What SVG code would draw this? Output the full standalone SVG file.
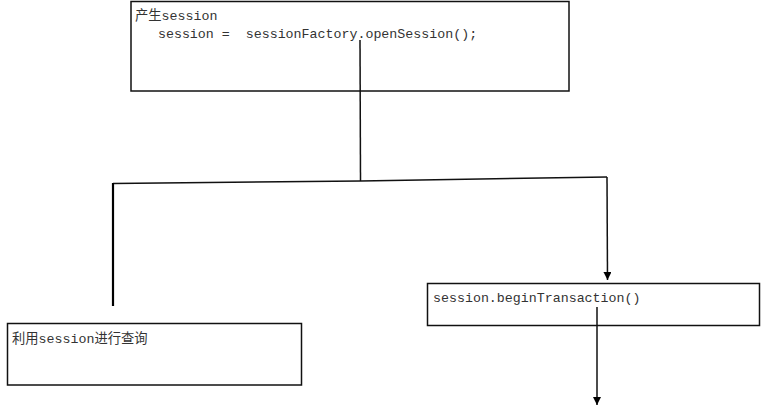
<svg xmlns="http://www.w3.org/2000/svg" width="762" height="414" viewBox="0 0 762 414">
<style>
.box{fill:#fff;stroke:#111;stroke-width:1.5}
.t{font-family:"Liberation Mono","Noto Sans CJK SC",monospace;font-size:13.3px;fill:#333;white-space:pre}
.c{fill:none;stroke:#111;stroke-width:1.5}
</style>
<defs>
<marker id="ah" viewBox="0 0 10 10" refX="10" refY="5" markerWidth="8" markerHeight="8" markerUnits="userSpaceOnUse" orient="auto">
<path d="M0,0L10,5L0,10z" fill="#000"/>
</marker>
</defs>
<rect width="762" height="414" fill="#fff"/>
<g id="node-open">
<rect class="box" x="131" y="1.5" width="438" height="89.5"/>
<text class="t" x="135" y="20">产生session</text>
<text class="t" x="134" y="38" xml:space="preserve">   session =  sessionFactory.openSession();</text>
</g>
<g id="node-query">
<rect class="box" x="7.5" y="323.5" width="294" height="61.5"/>
<text class="t" x="12" y="343">利用session进行查询</text>
</g>
<g id="node-tx">
<rect class="box" x="427.5" y="283.5" width="332" height="42"/>
<text class="t" x="433" y="302">session.beginTransaction()</text>
</g>
<g id="connectors">
<polyline class="c" points="360,40 360.5,181"/>
<polyline class="c" points="113,183.5 360.5,181 607,177"/>
<line x1="113" y1="183" x2="113" y2="306" stroke="#000" stroke-width="2.2"/>
<line class="c" x1="607" y1="177" x2="607.5" y2="280" marker-end="url(#ah)"/>
<line class="c" x1="597" y1="307" x2="597" y2="405" marker-end="url(#ah)"/>
</g>
</svg>
